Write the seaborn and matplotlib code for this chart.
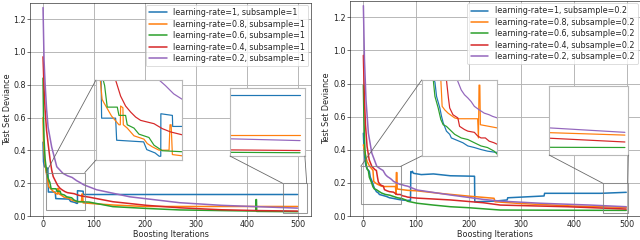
import matplotlib
matplotlib.use("Agg")
import matplotlib.pyplot as plt
from matplotlib.patches import Rectangle, ConnectionPatch
from matplotlib.ticker import FormatStrFormatter
import seaborn as sns

# ---- values (iteration, deviance) ----
rates = ["1", "0.8", "0.6", "0.4", "0.2"]
colors = ["#1f77b4", "#ff7f0e", "#2ca02c", "#d62728", "#9467bd"]

# subsample = 1
l_blue_it = [0, 1, 3, 9.5, 10.5, 24, 25, 51, 54, 62, 66, 67.5, 67.6, 78.7, 79, 499]
l_blue_dev = [0.45, 0.33, 0.30, 0.29, 0.146, 0.146, 0.106, 0.103, 0.089, 0.083, 0.077, 0.077,
              0.154, 0.151, 0.131, 0.131]
l_orange_it = [0, 1, 3, 6, 9, 11, 12.7, 20, 27.2, 28.5, 28.8, 31, 31.4, 35.2, 41.7, 51.3, 54.5,
               59.4, 62.6, 65.8, 75.5, 76.4, 77.5, 78.7, 100, 137, 200, 260, 499]
l_orange_dev = [0.60, 0.45, 0.35, 0.27, 0.22, 0.18, 0.174, 0.15, 0.134, 0.134, 0.168, 0.165, 0.134,
                0.128, 0.114, 0.108, 0.10, 0.094, 0.091, 0.088, 0.088, 0.134, 0.134, 0.080, 0.075,
                0.067, 0.058, 0.058, 0.058]
l_green_it = [0, 1, 2, 4, 7, 10, 13.4, 15.9, 25.6, 27.2, 33.6, 35.2, 41.7, 46.5, 51.3, 56.1, 61,
              65.8, 69, 90, 137, 203, 268, 350, 417, 417.5, 418.5, 419, 499]
l_green_dev = [0.84, 0.60, 0.47, 0.35, 0.27, 0.23, 0.205, 0.166, 0.166, 0.151, 0.151, 0.134, 0.128,
               0.117, 0.114, 0.111, 0.097, 0.091, 0.087, 0.085, 0.057, 0.046, 0.037, 0.033, 0.030,
               0.10, 0.10, 0.028, 0.026]
l_red_it = [0, 2, 4, 7, 10, 14, 17, 20, 24, 28.8, 33.6, 38.5, 43.3, 48.1, 54.5, 61, 69, 77, 83.5,
            90, 137, 203, 268, 350, 420, 499]
l_red_dev = [0.97, 0.78, 0.65, 0.52, 0.44, 0.34, 0.28, 0.24, 0.215, 0.186, 0.168, 0.157, 0.148,
             0.142, 0.139, 0.136, 0.127, 0.121, 0.118, 0.115, 0.087, 0.065, 0.05, 0.038, 0.033, 0.03]
l_purple_it = [0, 2, 4, 7, 10, 17, 27, 33, 39, 48, 57, 66, 72, 80, 90, 105, 170, 268, 350, 419, 499]
l_purple_dev = [1.27, 0.95, 0.81, 0.65, 0.54, 0.42, 0.30, 0.28, 0.26, 0.245, 0.235, 0.215, 0.205,
                0.19, 0.178, 0.16, 0.117, 0.081, 0.065, 0.057, 0.048]

# subsample = 0.2
r_blue_it = [0, 1, 3, 5, 8, 11.3, 13.2, 17, 19, 20.9, 24.7, 28.5, 30.4, 43.8, 49.6, 57.2, 64.9,
             72.5, 82, 89.5, 90, 92, 93, 95, 110, 133, 165, 197, 211, 211.5, 250, 273, 274, 343,
             344, 451, 499]
r_blue_dev = [0.5, 0.42, 0.34, 0.30, 0.28, 0.27, 0.234, 0.205, 0.184, 0.168, 0.147, 0.139, 0.130,
              0.118, 0.110, 0.106, 0.101, 0.097, 0.094, 0.095, 0.268, 0.262, 0.27, 0.258, 0.25,
              0.254, 0.243, 0.241, 0.24, 0.086, 0.09, 0.097, 0.11, 0.121, 0.137, 0.137, 0.143]
r_orange_it = [0, 3, 7, 12, 16, 18.2, 19.7, 22.8, 26.6, 34.3, 38, 61, 62, 62.6, 63.6, 64.2, 84,
               102, 150, 200, 248, 250, 300, 400, 499]
r_orange_dev = [0.43, 0.38, 0.33, 0.30, 0.285, 0.275, 0.209, 0.20, 0.192, 0.18, 0.178, 0.178,
                0.13, 0.262, 0.262, 0.163, 0.155, 0.152, 0.135, 0.12, 0.107, 0.086, 0.075, 0.06,
                0.052]
r_green_it = [0, 1, 2, 3, 5, 7, 9.4, 11.3, 15.1, 18.2, 20.9, 24.7, 28.5, 34.3, 41.9, 49.6, 57.2,
              64.9, 72.5, 80.2, 84, 102, 133, 165, 200, 260, 350, 499]
r_green_dev = [0.79, 0.60, 0.47, 0.40, 0.32, 0.285, 0.275, 0.234, 0.205, 0.176, 0.163, 0.159,
               0.151, 0.139, 0.130, 0.126, 0.118, 0.110, 0.106, 0.097, 0.089, 0.077, 0.066, 0.056,
               0.05, 0.036, 0.035, 0.034]
r_red_it = [0, 2, 4, 7, 11, 16, 22, 24.7, 27, 28.5, 32.3, 38, 40, 45.7, 49.6, 57.2, 61, 64.9, 70,
            74.4, 80, 84, 102, 165, 228, 260, 387, 499]
r_red_dev = [0.97, 0.70, 0.55, 0.42, 0.34, 0.30, 0.28, 0.275, 0.23, 0.205, 0.188, 0.18, 0.159,
             0.151, 0.147, 0.144, 0.135, 0.13, 0.13, 0.122, 0.118, 0.114, 0.108, 0.097, 0.08,
             0.066, 0.056, 0.042]
r_purple_it = [0, 2, 5, 9.5, 16, 25.5, 32, 37.3, 41.9, 45.7, 49.6, 53.4, 57.2, 63, 68.7, 74.4,
               78.3, 84, 102, 165, 228, 260, 336, 431, 499]
r_purple_dev = [1.27, 0.95, 0.70, 0.50, 0.38, 0.30, 0.285, 0.275, 0.25, 0.238, 0.23, 0.221,
                0.209, 0.2, 0.192, 0.188, 0.184, 0.18, 0.157, 0.127, 0.10, 0.09, 0.077, 0.066,
                0.056]

left_series = [(l_blue_it, l_blue_dev), (l_orange_it, l_orange_dev), (l_green_it, l_green_dev),
               (l_red_it, l_red_dev), (l_purple_it, l_purple_dev)]
right_series = [(r_blue_it, r_blue_dev), (r_orange_it, r_orange_dev), (r_green_it, r_green_dev),
                (r_red_it, r_red_dev), (r_purple_it, r_purple_dev)]

sns.set_style("ticks")
plt.rcParams['font.family'] = ['DejaVu Sans']

DPI = 58
fig = plt.figure(figsize=(640 / DPI, 240 / DPI), dpi=DPI)
ax_l = fig.add_axes([0.0473, 0.10, 0.4383, 0.889])
ax_r = fig.add_axes([0.5472, 0.10, 0.4527, 0.897])


def draw_lines(ax, series, subsample, lw=1.9, legend=True):
    for (its, devs), rate, col in zip(series, rates, colors):
        lab = "learning-rate=%s, subsample=%s" % (rate, subsample) if legend else None
        sns.lineplot(x=its, y=devs, ax=ax, color=col, label=lab, estimator=None,
                     sort=False, linewidth=lw, legend=legend)


def add_inset(ax, series, bounds, xlim, ylim, rect, corners):
    ins = ax.inset_axes(bounds)
    draw_lines(ins, series, "", lw=1.5, legend=False)
    ins.set_xlim(*xlim)
    ins.set_ylim(*ylim)
    ins.set_xticks([])
    ins.set_yticks([])
    ins.set_xlabel("")
    ins.set_ylabel("")
    for s in ins.spines.values():
        s.set_color("0.72")
        s.set_linewidth(1.4)
    (x0, y0), (x1, y1) = rect
    ax.add_patch(Rectangle((x0, y0), x1 - x0, y1 - y0, fill=False, ec="0.5",
                           lw=1.3, alpha=0.8, zorder=4))
    for (px, py), corner in zip([(x0, y1), (x1, y1)], corners):
        cp = ConnectionPatch(xyA=(px, py), coordsA=ax.transData, xyB=corner,
                             coordsB=ins.transAxes, color="0.4", lw=1.0)
        fig.add_artist(cp)
    return ins


for ax, series, ss in [(ax_l, left_series, "1"), (ax_r, right_series, "0.2")]:
    draw_lines(ax, series, ss)
    ax.set_xlim(-25, 525)
    ax.set_ylim(0, 1.3)
    ax.set_xticks([0, 100, 200, 300, 400, 500])
    ax.set_yticks([0.0, 0.2, 0.4, 0.6, 0.8, 1.0, 1.2])
    ax.yaxis.set_major_formatter(FormatStrFormatter("%.1f"))
    ax.tick_params(labelsize=10, pad=2)
    ax.grid(True, color="#b0b0b0", linewidth=1.1)
    ax.set_xlabel("Boosting Iterations", labelpad=1)
    ax.set_ylabel("Test Set Deviance", labelpad=2)
    ax.legend(loc="upper right", framealpha=0.8, labelspacing=0.3, borderaxespad=0.3,
              handlelength=2.2)

add_inset(ax_l, left_series, [0.234, 0.262, 0.307, 0.375], (5, 88), (0.07, 0.215),
          ((6, 0.036), (82, 0.265)), [(0, 1), (0, 0)])
add_inset(ax_l, left_series, [0.712, 0.281, 0.267, 0.318], (470, 501), (0.02, 0.143),
          ((470, 0.016), (517, 0.199)), [(0, 0), (1, 0)])
add_inset(ax_r, right_series, [0.247, 0.279, 0.261, 0.353], (-4, 84), (0.085, 0.275),
          ((-5, 0.073), (71, 0.30)), [(0, 1), (0, 0)])
add_inset(ax_r, right_series, [0.687, 0.283, 0.273, 0.320], (455, 501), (0.023, 0.123),
          ((455, 0.016), (502, 0.197)), [(0, 0), (1, 0)])

fig.savefig("out.png", dpi=DPI)
